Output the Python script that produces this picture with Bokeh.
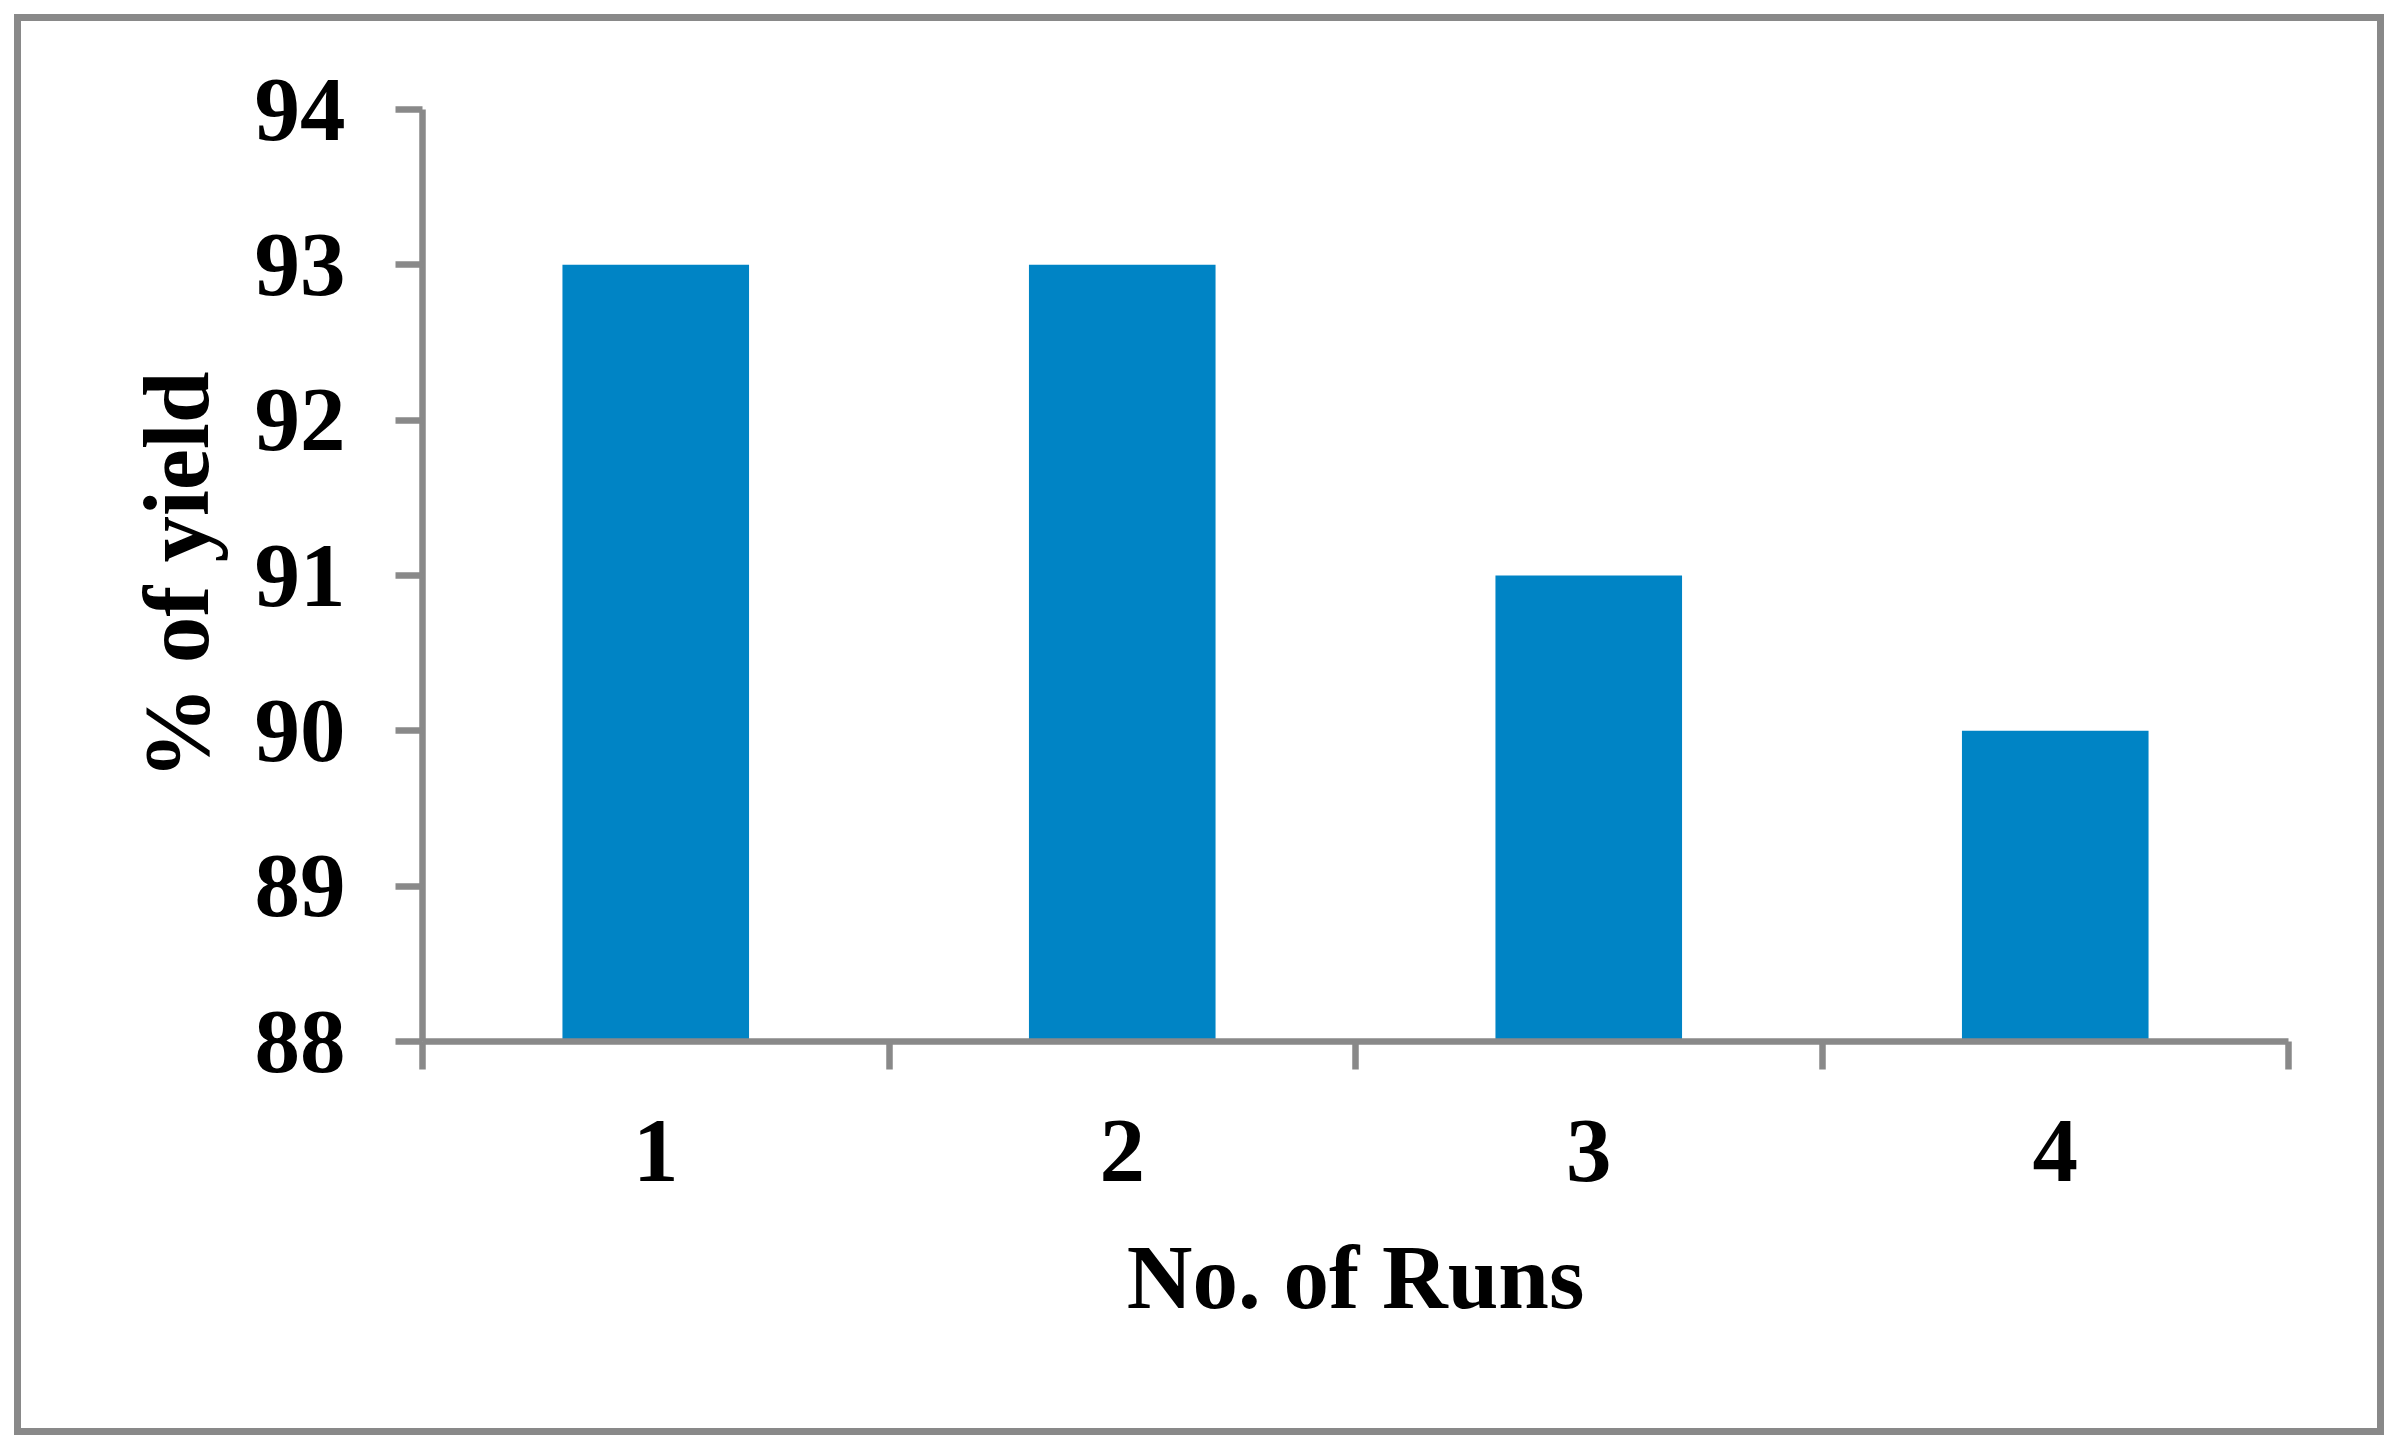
from bokeh.plotting import figure
from bokeh.models import Range1d, FixedTicker
from bokeh.embed import file_html
from bokeh.resources import INLINE

runs = [1, 2, 3, 4]
run_labels = ["1", "2", "3", "4"]
yield_pct = [93, 93, 91, 90]
y_ticks = [88, 89, 90, 91, 92, 93, 94]

GRAY = "#898989"
BAR = "#0084C5"
FONT = "Liberation Serif"

p = figure(width=2370, height=1421,
           x_range=Range1d(0.5, 4.5), y_range=Range1d(88, 94),
           output_backend="svg", toolbar_location=None,
           min_border_left=401, min_border_right=103,
           min_border_top=88, min_border_bottom=401)
p.styles = {"border": f"7px solid {GRAY}", "transform": "translate(14px, 14px)"}

p.vbar(x=runs, top=yield_pct, bottom=p.y_range.start, width=0.4,
       fill_color=BAR, line_color=None)

p.xgrid.visible = False
p.ygrid.visible = False
p.outline_line_color = None

# X axis: labels at category centres, ticks at category boundaries
xa = p.xaxis[0]
xa.ticker = FixedTicker(ticks=runs, minor_ticks=[r - 0.5 for r in runs] + [runs[-1] + 0.5])
xa.major_label_overrides = {r: l for r, l in zip(runs, run_labels)}
xa.major_tick_out = 0
xa.major_tick_in = 0
xa.minor_tick_out = 28
xa.minor_tick_in = 0
xa.minor_tick_line_color = GRAY
xa.minor_tick_line_width = 6.5
xa.axis_line_color = GRAY
xa.axis_line_width = 6.5
xa.major_label_text_font = FONT
xa.major_label_text_font_style = "bold"
xa.major_label_text_font_size = "91px"
xa.major_label_text_color = "black"
xa.major_label_standoff = 51
xa.axis_label = "No. of Runs"
xa.axis_label_text_font = FONT
xa.axis_label_text_font_style = "bold"
xa.axis_label_text_font_size = "91px"
xa.axis_label_text_color = "black"
xa.axis_label_standoff = 43

# Y axis
ya = p.yaxis[0]
ya.ticker = FixedTicker(ticks=y_ticks, minor_ticks=[])
ya.major_tick_out = 27
ya.major_tick_in = 0
ya.major_tick_line_color = GRAY
ya.major_tick_line_width = 6.5
ya.axis_line_color = GRAY
ya.axis_line_width = 6.5
ya.major_label_text_font = FONT
ya.major_label_text_font_style = "bold"
ya.major_label_text_font_size = "91px"
ya.major_label_text_color = "black"
ya.major_label_standoff = 50
ya.axis_label = "% of yield"
ya.axis_label_text_font = FONT
ya.axis_label_text_font_style = "bold"
ya.axis_label_text_font_size = "93px"
ya.axis_label_text_color = "black"
ya.axis_label_standoff = 24

open("out.html", "w").write(file_html(p, INLINE))
